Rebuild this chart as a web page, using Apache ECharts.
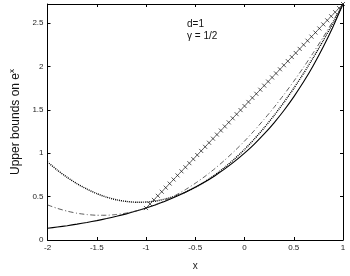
<!DOCTYPE html>
<html><head><meta charset="utf-8">
<script src="https://cdn.jsdelivr.net/npm/echarts@6/dist/echarts.min.js"></script>
<style>html,body{margin:0;padding:0;background:#fff}#c{width:350px;height:276px}</style>
</head><body><div id="c"></div>
<script>
// x positions for the smooth curves
const curveX = [-2,-1.9,-1.8,-1.7,-1.6,-1.5,-1.4,-1.3,-1.2,-1.1,-1,-0.9,-0.8,-0.7,-0.6,-0.5,-0.4,-0.3,-0.2,-0.1,0,0.1,0.2,0.3,0.4,0.5,0.6,0.7,0.8,0.9,1];
// solid: e^x
const expCurve = [0.135,0.150,0.165,0.183,0.202,0.223,0.247,0.273,0.301,0.333,0.368,0.407,0.449,0.497,0.549,0.607,0.670,0.741,0.819,0.905,1.000,1.105,1.221,1.350,1.492,1.649,1.822,2.014,2.226,2.460,2.718];
// dotted bound
const dottedBound = [0.899,0.804,0.721,0.648,0.586,0.534,0.493,0.463,0.444,0.435,0.437,0.449,0.473,0.507,0.551,0.607,0.673,0.749,0.837,0.935,1.043,1.163,1.293,1.434,1.585,1.747,1.920,2.104,2.298,2.503,2.718];
// dash-dot bound
const dashDotBound = [0.404,0.364,0.332,0.308,0.293,0.285,0.285,0.294,0.310,0.335,0.368,0.409,0.458,0.515,0.580,0.653,0.734,0.823,0.921,1.026,1.139,1.261,1.391,1.528,1.674,1.828,1.990,2.160,2.338,2.524,2.718];
// crosses (linear bound)
const crossX = [-1,-0.96,-0.92,-0.88,-0.84,-0.8,-0.76,-0.72,-0.68,-0.64,-0.6,-0.56,-0.52,-0.48,-0.44,-0.4,-0.36,-0.32,-0.28,-0.24,-0.2,-0.16,-0.12,-0.08,-0.04,0,0.04,0.08,0.12,0.16,0.2,0.24,0.28,0.32,0.36,0.4,0.44,0.48,0.52,0.56,0.6,0.64,0.68,0.72,0.76,0.8,0.84,0.88,0.92,0.96,1];
const crossY = [0.3679,0.4149,0.4619,0.5089,0.5559,0.6029,0.6499,0.6969,0.7439,0.7910,0.8380,0.8850,0.9320,0.9790,1.0260,1.0730,1.1200,1.1670,1.2140,1.2610,1.3080,1.3550,1.4021,1.4491,1.4961,1.5431,1.5901,1.6371,1.6841,1.7311,1.7781,1.8251,1.8721,1.9191,1.9661,2.0132,2.0602,2.1072,2.1542,2.2012,2.2482,2.2952,2.3422,2.3892,2.4362,2.4832,2.5302,2.5772,2.6243,2.6713,2.7183];
const annotations = ['d=1', 'γ = 1/2'];

const pair = (xs, ys) => xs.map((x, i) => [x, ys[i]]);
const FONT = 'Liberation Sans';
const chart = echarts.init(document.getElementById('c'), null, {renderer: 'canvas'});

const axisCommon = {
  axisLine: {show: true, onZero: false, lineStyle: {color: '#000', width: 1}},
  axisTick: {show: true, inside: true, length: 3, lineStyle: {color: '#000'}},
  splitLine: {show: false}
};

chart.setOption({
  animation: false,
  backgroundColor: '#fff',
  grid: {left: 32, right: 7, top: 4, bottom: 27},
  xAxis: [
    Object.assign({}, axisCommon, {
      type: 'value', min: -2, max: 1, interval: 0.5, position: 'bottom',
      name: 'x', nameLocation: 'middle', nameGap: 21,
      nameTextStyle: {fontFamily: FONT, fontSize: 10, color: '#222'},
      axisLabel: {fontFamily: FONT, fontSize: 8, color: '#222', margin: 4}
    }),
    Object.assign({}, axisCommon, {
      type: 'value', min: -2, max: 1, interval: 0.5, position: 'top',
      axisLabel: {show: false}
    })
  ],
  yAxis: [
    Object.assign({}, axisCommon, {
      type: 'value', min: 0, max: 2.71828, interval: 0.5, position: 'left',
      name: '{a|Upper bounds on e}{b|x}', nameLocation: 'middle', nameGap: 19,
      nameTextStyle: {rich: {
        a: {fontFamily: FONT, fontSize: 12, color: '#111'},
        b: {fontFamily: FONT, fontSize: 8, color: '#111', verticalAlign: 'top', padding: [0,0,7,0]}
      }},
      axisLabel: {fontFamily: FONT, fontSize: 8, color: '#222', margin: 4, showMaxLabel: false}
    }),
    Object.assign({}, axisCommon, {
      type: 'value', min: 0, max: 2.71828, interval: 0.5, position: 'right',
      axisLabel: {show: false}
    })
  ],
  graphic: [
    {type: 'text', left: 187, top: 19, style: {text: annotations[0], font: '10px "Liberation Sans"', fill: '#111'}},
    {type: 'text', left: 187, top: 31, style: {text: annotations[1], font: '10px "Liberation Sans"', fill: '#111'}}
  ],
  series: [
    {type: 'line', data: pair(curveX, expCurve), showSymbol: false, smooth: 0.2,
     lineStyle: {color: '#000', width: 1.1}},
    {type: 'line', data: pair(curveX, dottedBound), showSymbol: false, smooth: 0.2,
     lineStyle: {color: '#000', width: 1.4, type: [1, 1]}},
    {type: 'line', data: pair(curveX, dashDotBound), showSymbol: false, smooth: 0.2,
     lineStyle: {color: '#333', width: 0.8, type: [5, 2.5, 1, 2.5]}},
    {type: 'scatter', data: pair(crossX, crossY), symbolSize: 4,
     symbol: 'path://M0,0L10,10M10,0L0,10',
     itemStyle: {color: 'none', borderColor: '#111', borderWidth: 0.9}}
  ]
});
</script>
</body></html>
